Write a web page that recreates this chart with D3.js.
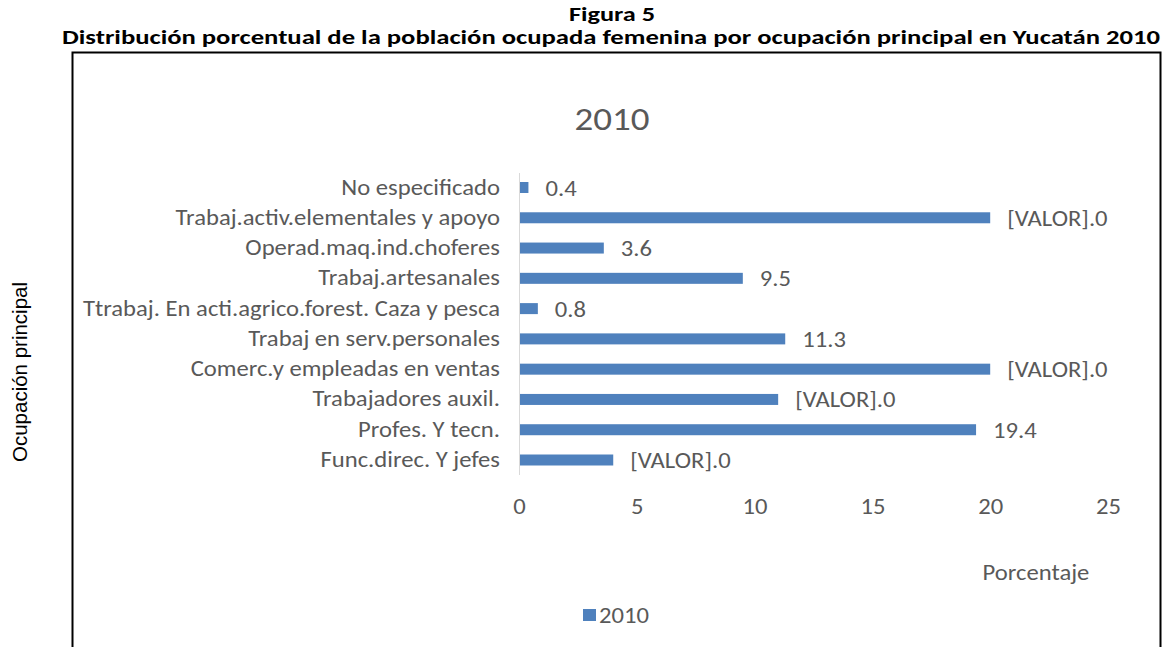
<!DOCTYPE html>
<html><head><meta charset="utf-8">
<script src="https://cdn.jsdelivr.net/npm/d3@7"></script>
<style>body{margin:0;background:#fff}svg{display:block}</style>
</head><body>
<svg id="c" width="1165" height="647"></svg>
<script>
const categories = ["No especificado","Trabaj.activ.elementales y apoyo","Operad.maq.ind.choferes","Trabaj.artesanales","Ttrabaj. En acti.agrico.forest. Caza y pesca","Trabaj en serv.personales","Comerc.y empleadas en ventas","Trabajadores auxil.","Profes. Y tecn.","Func.direc. Y jefes"];
const values = [0.4,20.0,3.6,9.5,0.8,11.3,20.0,11.0,19.4,4.0];
const valueLabels = ["0.4","[VALOR].0","3.6","9.5","0.8","11.3","[VALOR].0","[VALOR].0","19.4","[VALOR].0"];
const xTicks = [0,5,10,15,20,25];
const seriesName = "2010";

const svg = d3.select("#c");
const font = "Carlito, 'Liberation Sans Narrow', 'Open Sans', sans-serif";
const grey = "#595959", blue = "#4f81bd";
const FS = 22;

svg.append("text").attr("x",612).attr("y",21).attr("text-anchor","middle")
  .attr("font-family",font).attr("font-weight","bold").attr("font-size",20)
  .attr("textLength",86).attr("lengthAdjust","spacingAndGlyphs").text("Figura 5");
svg.append("text").attr("x",611).attr("y",44).attr("text-anchor","middle")
  .attr("font-family",font).attr("font-weight","bold").attr("font-size",20)
  .attr("textLength",1098).attr("lengthAdjust","spacingAndGlyphs")
  .text("Distribución porcentual de la población ocupada femenina por ocupación principal en Yucatán 2010");

// frame
svg.append("path").attr("d","M72.5,660V52.5H1160.5V660").attr("fill","none").attr("stroke","#000").attr("stroke-width",2);

svg.append("text").attr("class","st").attr("x",612).attr("y",130).attr("text-anchor","middle")
  .attr("font-family",font).attr("font-size",33).attr("fill",grey).text("2010");

const x = d3.scaleLinear().domain([0,25]).range([519,1108]);
const y = d3.scalePoint().domain(categories).range([187.5,460]);

svg.selectAll("rect.bar").data(categories).join("rect").attr("class","bar")
  .attr("x",x(0)).attr("y",d=>y(d)-5.5).attr("height",11)
  .attr("width",(d,i)=>x(values[i])-x(0)).attr("fill",blue);

svg.append("line").attr("x1",519.5).attr("x2",519.5).attr("y1",173).attr("y2",475).attr("stroke","#d9d9d9").attr("stroke-width",1);

svg.selectAll("text.cat").data(categories).join("text").attr("class","cat st")
  .attr("x",500).attr("y",d=>y(d)+7).attr("text-anchor","end")
  .attr("font-family",font).attr("font-size",FS).attr("fill",grey).text(d=>d);

svg.selectAll("text.val").data(categories).join("text").attr("class","val st")
  .attr("x",(d,i)=>x(values[i])+17).attr("y",d=>y(d)+8)
  .attr("font-family",font).attr("font-size",FS).attr("fill",grey).text((d,i)=>valueLabels[i]);

const xa = svg.append("g").attr("transform","translate(0,514)")
  .call(d3.axisBottom(x).tickValues(xTicks).tickSize(0).tickPadding(0).tickFormat(d3.format("d")));
xa.select(".domain").remove();
xa.selectAll("text").attr("class","st").attr("y",0).attr("dy",0).attr("font-family",font).attr("font-size",FS).attr("fill",grey);

svg.append("text").attr("class","st").attr("x",1036).attr("y",580).attr("text-anchor","middle")
  .attr("font-family",font).attr("font-size",FS).attr("fill",grey).text("Porcentaje");

svg.append("text").attr("transform","translate(27,372) rotate(-90)").attr("text-anchor","middle")
  .attr("font-family","'Liberation Sans', Arial, sans-serif").attr("font-size",20.5).attr("fill","#000").text("Ocupación principal");

svg.append("rect").attr("x",583).attr("y",609).attr("width",13).attr("height",12).attr("fill",blue);
svg.append("text").attr("class","st").attr("x",599).attr("y",623).attr("font-family",font).attr("font-size",FS).attr("fill",grey).text(seriesName);

// the reference text is slightly widened horizontally
svg.selectAll("text.st").each(function(){
  const w = this.getComputedTextLength();
  d3.select(this).attr("textLength", w*1.12).attr("lengthAdjust","spacingAndGlyphs");
});
</script>
</body></html>
